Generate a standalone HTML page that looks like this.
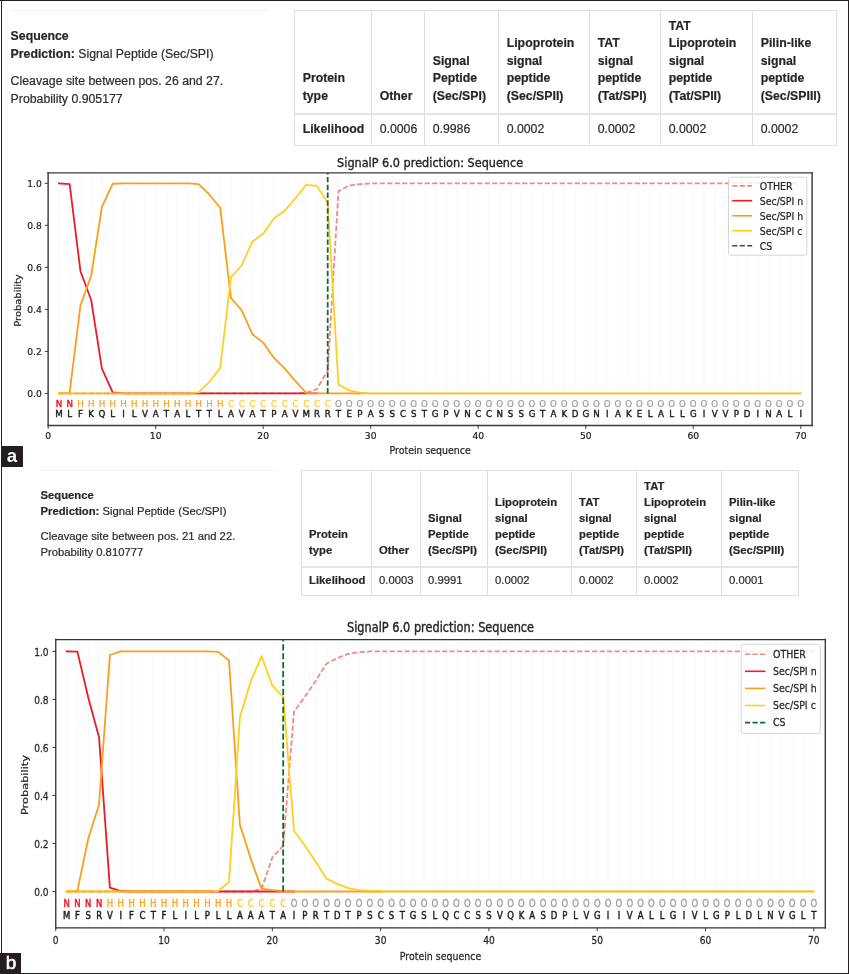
<!DOCTYPE html>
<html lang="en"><head><meta charset="utf-8"><title>SignalP 6.0 prediction</title>
<style>
html,body{margin:0;padding:0;background:#fff}
body{width:849px;height:974px;position:relative;overflow:hidden;font-family:"Liberation Sans",Arial,Helvetica,sans-serif;color:#333}
.t{position:absolute;white-space:nowrap;color:#2b2b2b;-webkit-text-stroke:0.2px #2b2b2b}
.t b,.b{font-weight:bold;color:#262626}
.hr{position:absolute;height:1px;background:#f2f2f2}
.lk{position:absolute;border-collapse:collapse;table-layout:fixed;color:#2b2b2b;-webkit-text-stroke:0.2px #2b2b2b}
.lk th,.lk td{border:1px solid #dedede;vertical-align:bottom;text-align:left;white-space:nowrap;font-weight:normal}
.lk th{font-weight:bold;color:#262626}
.lk thead th{border-bottom:2px solid #e4e4e4}
.bd{position:absolute;background:#231f20}
.tag{position:absolute;background:#231f20;color:#fff;font-weight:bold;text-align:center}
svg{position:absolute;left:0;top:0}
</style></head><body>
<div class="hr" style="left:10px;top:9.5px;width:257.5px"></div>
<div class="t" style="left:10.6px;top:28px;font-size:12.3px;line-height:17.6px"><b>Sequence</b></div>
<div class="t" style="left:10.6px;top:46px;font-size:12.3px;line-height:17.6px"><b>Prediction:</b> Signal Peptide (Sec/SPI)</div>
<div class="t" style="left:10.6px;top:73px;font-size:12.3px;line-height:17.6px">Cleavage site between pos. 26 and 27.</div>
<div class="t" style="left:10.6px;top:91px;font-size:12.3px;line-height:17.6px">Probability 0.905177</div>
<table class="lk" style="left:294px;top:10px;width:543px;font-size:12.3px;line-height:17.6px">
<colgroup><col style="width:77px"><col style="width:53px"><col style="width:74px"><col style="width:91px"><col style="width:71px"><col style="width:92px"><col style="width:84px"></colgroup>
<thead><tr style="height:103px"><th style="padding:0 0 7px 7.699999999999999px">Protein<br>type</th><th style="padding:0 0 7px 7.699999999999999px">Other</th><th style="padding:0 0 7px 7.699999999999999px">Signal<br>Peptide<br>(Sec/SPI)</th><th style="padding:0 0 7px 7.699999999999999px">Lipoprotein<br>signal<br>peptide<br>(Sec/SPII)</th><th style="padding:0 0 7px 7.699999999999999px">TAT<br>signal<br>peptide<br>(Tat/SPI)</th><th style="padding:0 0 7px 7.699999999999999px">TAT<br>Lipoprotein<br>signal<br>peptide<br>(Tat/SPII)</th><th style="padding:0 0 7px 7.699999999999999px">Pilin-like<br>signal<br>peptide<br>(Sec/SPIII)</th></tr></thead>
<tbody><tr style="height:32px"><th style="padding:0 0 6px 7.699999999999999px">Likelihood</th><td style="padding:0 0 6px 7.699999999999999px">0.0006</td><td style="padding:0 0 6px 7.699999999999999px">0.9986</td><td style="padding:0 0 6px 7.699999999999999px">0.0002</td><td style="padding:0 0 6px 7.699999999999999px">0.0002</td><td style="padding:0 0 6px 7.699999999999999px">0.0002</td><td style="padding:0 0 6px 7.699999999999999px">0.0002</td></tr></tbody>
</table>
<div class="hr" style="left:39.6px;top:470.4px;width:236.7px"></div>
<div class="t" style="left:40.5px;top:487px;font-size:11.28px;line-height:16.15px"><b>Sequence</b></div>
<div class="t" style="left:40.5px;top:503px;font-size:11.28px;line-height:16.15px"><b>Prediction:</b> Signal Peptide (Sec/SPI)</div>
<div class="t" style="left:40.5px;top:528px;font-size:11.28px;line-height:16.15px">Cleavage site between pos. 21 and 22.</div>
<div class="t" style="left:40.5px;top:544px;font-size:11.28px;line-height:16.15px">Probability 0.810777</div>
<table class="lk" style="left:301px;top:470px;width:498px;font-size:11.28px;line-height:16.15px">
<colgroup><col style="width:70px"><col style="width:49px"><col style="width:67px"><col style="width:84px"><col style="width:65px"><col style="width:85px"><col style="width:77px"></colgroup>
<thead><tr style="height:96px"><th style="padding:0 0 7px 7.1px">Protein<br>type</th><th style="padding:0 0 7px 7.1px">Other</th><th style="padding:0 0 7px 7.1px">Signal<br>Peptide<br>(Sec/SPI)</th><th style="padding:0 0 7px 7.1px">Lipoprotein<br>signal<br>peptide<br>(Sec/SPII)</th><th style="padding:0 0 7px 7.1px">TAT<br>signal<br>peptide<br>(Tat/SPI)</th><th style="padding:0 0 7px 7.1px">TAT<br>Lipoprotein<br>signal<br>peptide<br>(Tat/SPII)</th><th style="padding:0 0 7px 7.1px">Pilin-like<br>signal<br>peptide<br>(Sec/SPIII)</th></tr></thead>
<tbody><tr style="height:29px"><th style="padding:0 0 7px 7.1px">Likelihood</th><td style="padding:0 0 7px 7.1px">0.0003</td><td style="padding:0 0 7px 7.1px">0.9991</td><td style="padding:0 0 7px 7.1px">0.0002</td><td style="padding:0 0 7px 7.1px">0.0002</td><td style="padding:0 0 7px 7.1px">0.0002</td><td style="padding:0 0 7px 7.1px">0.0001</td></tr></tbody>
</table>
<svg width="849" height="974" viewBox="0 0 849 974">
<g font-family="'DejaVu Sans','Liberation Sans',sans-serif" font-size="9.4" fill="#262626" stroke="#262626" stroke-width="0.22">
<path d="M58.9 172.9V425.5M69.65 172.9V425.5M80.41 172.9V425.5M91.16 172.9V425.5M101.91 172.9V425.5M112.66 172.9V425.5M123.41 172.9V425.5M134.17 172.9V425.5M144.92 172.9V425.5M155.67 172.9V425.5M166.42 172.9V425.5M177.17 172.9V425.5M187.93 172.9V425.5M198.68 172.9V425.5M209.43 172.9V425.5M220.18 172.9V425.5M230.93 172.9V425.5M241.69 172.9V425.5M252.44 172.9V425.5M263.19 172.9V425.5M273.94 172.9V425.5M284.69 172.9V425.5M295.45 172.9V425.5M306.2 172.9V425.5M316.95 172.9V425.5M327.7 172.9V425.5M338.45 172.9V425.5M349.21 172.9V425.5M359.96 172.9V425.5M370.71 172.9V425.5M381.46 172.9V425.5M392.21 172.9V425.5M402.97 172.9V425.5M413.72 172.9V425.5M424.47 172.9V425.5M435.22 172.9V425.5M445.97 172.9V425.5M456.73 172.9V425.5M467.48 172.9V425.5M478.23 172.9V425.5M488.98 172.9V425.5M499.73 172.9V425.5M510.49 172.9V425.5M521.24 172.9V425.5M531.99 172.9V425.5M542.74 172.9V425.5M553.49 172.9V425.5M564.25 172.9V425.5M575 172.9V425.5M585.75 172.9V425.5M596.5 172.9V425.5M607.25 172.9V425.5M618.01 172.9V425.5M628.76 172.9V425.5M639.51 172.9V425.5M650.26 172.9V425.5M661.01 172.9V425.5M671.77 172.9V425.5M682.52 172.9V425.5M693.27 172.9V425.5M704.02 172.9V425.5M714.77 172.9V425.5M725.53 172.9V425.5M736.28 172.9V425.5M747.03 172.9V425.5M757.78 172.9V425.5M768.53 172.9V425.5M779.29 172.9V425.5M790.04 172.9V425.5M800.79 172.9V425.5" stroke="#f9f9f9" stroke-width="1.1" fill="none"/>
<text transform="translate(58.9 406.75) scale(1 1.043)" text-anchor="middle" font-size="8.7" fill="#ED1B24" stroke="#ED1B24" stroke-width="0.45">N</text>
<text transform="translate(69.65 406.75) scale(1 1.043)" text-anchor="middle" font-size="8.7" fill="#ED1B24" stroke="#ED1B24" stroke-width="0.45">N</text>
<text transform="translate(80.41 406.75) scale(1 1.043)" text-anchor="middle" font-size="8.7" fill="#F9A01B" stroke="#F9A01B">H</text>
<text transform="translate(91.16 406.75) scale(1 1.043)" text-anchor="middle" font-size="8.7" fill="#F9A01B" stroke="#F9A01B">H</text>
<text transform="translate(101.91 406.75) scale(1 1.043)" text-anchor="middle" font-size="8.7" fill="#F9A01B" stroke="#F9A01B">H</text>
<text transform="translate(112.66 406.75) scale(1 1.043)" text-anchor="middle" font-size="8.7" fill="#F9A01B" stroke="#F9A01B">H</text>
<text transform="translate(123.41 406.75) scale(1 1.043)" text-anchor="middle" font-size="8.7" fill="#F9A01B" stroke="#F9A01B">H</text>
<text transform="translate(134.17 406.75) scale(1 1.043)" text-anchor="middle" font-size="8.7" fill="#F9A01B" stroke="#F9A01B">H</text>
<text transform="translate(144.92 406.75) scale(1 1.043)" text-anchor="middle" font-size="8.7" fill="#F9A01B" stroke="#F9A01B">H</text>
<text transform="translate(155.67 406.75) scale(1 1.043)" text-anchor="middle" font-size="8.7" fill="#F9A01B" stroke="#F9A01B">H</text>
<text transform="translate(166.42 406.75) scale(1 1.043)" text-anchor="middle" font-size="8.7" fill="#F9A01B" stroke="#F9A01B">H</text>
<text transform="translate(177.17 406.75) scale(1 1.043)" text-anchor="middle" font-size="8.7" fill="#F9A01B" stroke="#F9A01B">H</text>
<text transform="translate(187.93 406.75) scale(1 1.043)" text-anchor="middle" font-size="8.7" fill="#F9A01B" stroke="#F9A01B">H</text>
<text transform="translate(198.68 406.75) scale(1 1.043)" text-anchor="middle" font-size="8.7" fill="#F9A01B" stroke="#F9A01B">H</text>
<text transform="translate(209.43 406.75) scale(1 1.043)" text-anchor="middle" font-size="8.7" fill="#F9A01B" stroke="#F9A01B">H</text>
<text transform="translate(220.18 406.75) scale(1 1.043)" text-anchor="middle" font-size="8.7" fill="#F9A01B" stroke="#F9A01B">H</text>
<text transform="translate(230.93 406.75) scale(1 1.043)" text-anchor="middle" font-size="8.7" fill="#FFCF1F" stroke="#FFCF1F">C</text>
<text transform="translate(241.69 406.75) scale(1 1.043)" text-anchor="middle" font-size="8.7" fill="#FFCF1F" stroke="#FFCF1F">C</text>
<text transform="translate(252.44 406.75) scale(1 1.043)" text-anchor="middle" font-size="8.7" fill="#FFCF1F" stroke="#FFCF1F">C</text>
<text transform="translate(263.19 406.75) scale(1 1.043)" text-anchor="middle" font-size="8.7" fill="#FFCF1F" stroke="#FFCF1F">C</text>
<text transform="translate(273.94 406.75) scale(1 1.043)" text-anchor="middle" font-size="8.7" fill="#FFCF1F" stroke="#FFCF1F">C</text>
<text transform="translate(284.69 406.75) scale(1 1.043)" text-anchor="middle" font-size="8.7" fill="#FFCF1F" stroke="#FFCF1F">C</text>
<text transform="translate(295.45 406.75) scale(1 1.043)" text-anchor="middle" font-size="8.7" fill="#FFCF1F" stroke="#FFCF1F">C</text>
<text transform="translate(306.2 406.75) scale(1 1.043)" text-anchor="middle" font-size="8.7" fill="#FFCF1F" stroke="#FFCF1F">C</text>
<text transform="translate(316.95 406.75) scale(1 1.043)" text-anchor="middle" font-size="8.7" fill="#FFCF1F" stroke="#FFCF1F">C</text>
<text transform="translate(327.7 406.75) scale(1 1.043)" text-anchor="middle" font-size="8.7" fill="#FFCF1F" stroke="#FFCF1F">C</text>
<text transform="translate(338.45 406.75) scale(1 1.043)" text-anchor="middle" font-size="8.7" fill="#9a9a9a" stroke="#9a9a9a">O</text>
<text transform="translate(349.21 406.75) scale(1 1.043)" text-anchor="middle" font-size="8.7" fill="#9a9a9a" stroke="#9a9a9a">O</text>
<text transform="translate(359.96 406.75) scale(1 1.043)" text-anchor="middle" font-size="8.7" fill="#9a9a9a" stroke="#9a9a9a">O</text>
<text transform="translate(370.71 406.75) scale(1 1.043)" text-anchor="middle" font-size="8.7" fill="#9a9a9a" stroke="#9a9a9a">O</text>
<text transform="translate(381.46 406.75) scale(1 1.043)" text-anchor="middle" font-size="8.7" fill="#9a9a9a" stroke="#9a9a9a">O</text>
<text transform="translate(392.21 406.75) scale(1 1.043)" text-anchor="middle" font-size="8.7" fill="#9a9a9a" stroke="#9a9a9a">O</text>
<text transform="translate(402.97 406.75) scale(1 1.043)" text-anchor="middle" font-size="8.7" fill="#9a9a9a" stroke="#9a9a9a">O</text>
<text transform="translate(413.72 406.75) scale(1 1.043)" text-anchor="middle" font-size="8.7" fill="#9a9a9a" stroke="#9a9a9a">O</text>
<text transform="translate(424.47 406.75) scale(1 1.043)" text-anchor="middle" font-size="8.7" fill="#9a9a9a" stroke="#9a9a9a">O</text>
<text transform="translate(435.22 406.75) scale(1 1.043)" text-anchor="middle" font-size="8.7" fill="#9a9a9a" stroke="#9a9a9a">O</text>
<text transform="translate(445.97 406.75) scale(1 1.043)" text-anchor="middle" font-size="8.7" fill="#9a9a9a" stroke="#9a9a9a">O</text>
<text transform="translate(456.73 406.75) scale(1 1.043)" text-anchor="middle" font-size="8.7" fill="#9a9a9a" stroke="#9a9a9a">O</text>
<text transform="translate(467.48 406.75) scale(1 1.043)" text-anchor="middle" font-size="8.7" fill="#9a9a9a" stroke="#9a9a9a">O</text>
<text transform="translate(478.23 406.75) scale(1 1.043)" text-anchor="middle" font-size="8.7" fill="#9a9a9a" stroke="#9a9a9a">O</text>
<text transform="translate(488.98 406.75) scale(1 1.043)" text-anchor="middle" font-size="8.7" fill="#9a9a9a" stroke="#9a9a9a">O</text>
<text transform="translate(499.73 406.75) scale(1 1.043)" text-anchor="middle" font-size="8.7" fill="#9a9a9a" stroke="#9a9a9a">O</text>
<text transform="translate(510.49 406.75) scale(1 1.043)" text-anchor="middle" font-size="8.7" fill="#9a9a9a" stroke="#9a9a9a">O</text>
<text transform="translate(521.24 406.75) scale(1 1.043)" text-anchor="middle" font-size="8.7" fill="#9a9a9a" stroke="#9a9a9a">O</text>
<text transform="translate(531.99 406.75) scale(1 1.043)" text-anchor="middle" font-size="8.7" fill="#9a9a9a" stroke="#9a9a9a">O</text>
<text transform="translate(542.74 406.75) scale(1 1.043)" text-anchor="middle" font-size="8.7" fill="#9a9a9a" stroke="#9a9a9a">O</text>
<text transform="translate(553.49 406.75) scale(1 1.043)" text-anchor="middle" font-size="8.7" fill="#9a9a9a" stroke="#9a9a9a">O</text>
<text transform="translate(564.25 406.75) scale(1 1.043)" text-anchor="middle" font-size="8.7" fill="#9a9a9a" stroke="#9a9a9a">O</text>
<text transform="translate(575 406.75) scale(1 1.043)" text-anchor="middle" font-size="8.7" fill="#9a9a9a" stroke="#9a9a9a">O</text>
<text transform="translate(585.75 406.75) scale(1 1.043)" text-anchor="middle" font-size="8.7" fill="#9a9a9a" stroke="#9a9a9a">O</text>
<text transform="translate(596.5 406.75) scale(1 1.043)" text-anchor="middle" font-size="8.7" fill="#9a9a9a" stroke="#9a9a9a">O</text>
<text transform="translate(607.25 406.75) scale(1 1.043)" text-anchor="middle" font-size="8.7" fill="#9a9a9a" stroke="#9a9a9a">O</text>
<text transform="translate(618.01 406.75) scale(1 1.043)" text-anchor="middle" font-size="8.7" fill="#9a9a9a" stroke="#9a9a9a">O</text>
<text transform="translate(628.76 406.75) scale(1 1.043)" text-anchor="middle" font-size="8.7" fill="#9a9a9a" stroke="#9a9a9a">O</text>
<text transform="translate(639.51 406.75) scale(1 1.043)" text-anchor="middle" font-size="8.7" fill="#9a9a9a" stroke="#9a9a9a">O</text>
<text transform="translate(650.26 406.75) scale(1 1.043)" text-anchor="middle" font-size="8.7" fill="#9a9a9a" stroke="#9a9a9a">O</text>
<text transform="translate(661.01 406.75) scale(1 1.043)" text-anchor="middle" font-size="8.7" fill="#9a9a9a" stroke="#9a9a9a">O</text>
<text transform="translate(671.77 406.75) scale(1 1.043)" text-anchor="middle" font-size="8.7" fill="#9a9a9a" stroke="#9a9a9a">O</text>
<text transform="translate(682.52 406.75) scale(1 1.043)" text-anchor="middle" font-size="8.7" fill="#9a9a9a" stroke="#9a9a9a">O</text>
<text transform="translate(693.27 406.75) scale(1 1.043)" text-anchor="middle" font-size="8.7" fill="#9a9a9a" stroke="#9a9a9a">O</text>
<text transform="translate(704.02 406.75) scale(1 1.043)" text-anchor="middle" font-size="8.7" fill="#9a9a9a" stroke="#9a9a9a">O</text>
<text transform="translate(714.77 406.75) scale(1 1.043)" text-anchor="middle" font-size="8.7" fill="#9a9a9a" stroke="#9a9a9a">O</text>
<text transform="translate(725.53 406.75) scale(1 1.043)" text-anchor="middle" font-size="8.7" fill="#9a9a9a" stroke="#9a9a9a">O</text>
<text transform="translate(736.28 406.75) scale(1 1.043)" text-anchor="middle" font-size="8.7" fill="#9a9a9a" stroke="#9a9a9a">O</text>
<text transform="translate(747.03 406.75) scale(1 1.043)" text-anchor="middle" font-size="8.7" fill="#9a9a9a" stroke="#9a9a9a">O</text>
<text transform="translate(757.78 406.75) scale(1 1.043)" text-anchor="middle" font-size="8.7" fill="#9a9a9a" stroke="#9a9a9a">O</text>
<text transform="translate(768.53 406.75) scale(1 1.043)" text-anchor="middle" font-size="8.7" fill="#9a9a9a" stroke="#9a9a9a">O</text>
<text transform="translate(779.29 406.75) scale(1 1.043)" text-anchor="middle" font-size="8.7" fill="#9a9a9a" stroke="#9a9a9a">O</text>
<text transform="translate(790.04 406.75) scale(1 1.043)" text-anchor="middle" font-size="8.7" fill="#9a9a9a" stroke="#9a9a9a">O</text>
<text transform="translate(800.79 406.75) scale(1 1.043)" text-anchor="middle" font-size="8.7" fill="#9a9a9a" stroke="#9a9a9a">O</text>
<text transform="translate(58.9 417.26) scale(1 1.043)" text-anchor="middle" font-size="8.7" fill="#1c1c1c" stroke="#1c1c1c" stroke-width="0.38">M</text>
<text transform="translate(69.65 417.26) scale(1 1.043)" text-anchor="middle" font-size="8.7" fill="#1c1c1c" stroke="#1c1c1c" stroke-width="0.38">L</text>
<text transform="translate(80.41 417.26) scale(1 1.043)" text-anchor="middle" font-size="8.7" fill="#1c1c1c" stroke="#1c1c1c" stroke-width="0.38">F</text>
<text transform="translate(91.16 417.26) scale(1 1.043)" text-anchor="middle" font-size="8.7" fill="#1c1c1c" stroke="#1c1c1c" stroke-width="0.38">K</text>
<text transform="translate(101.91 417.26) scale(1 1.043)" text-anchor="middle" font-size="8.7" fill="#1c1c1c" stroke="#1c1c1c" stroke-width="0.38">Q</text>
<text transform="translate(112.66 417.26) scale(1 1.043)" text-anchor="middle" font-size="8.7" fill="#1c1c1c" stroke="#1c1c1c" stroke-width="0.38">L</text>
<text transform="translate(123.41 417.26) scale(1 1.043)" text-anchor="middle" font-size="8.7" fill="#1c1c1c" stroke="#1c1c1c" stroke-width="0.38">I</text>
<text transform="translate(134.17 417.26) scale(1 1.043)" text-anchor="middle" font-size="8.7" fill="#1c1c1c" stroke="#1c1c1c" stroke-width="0.38">L</text>
<text transform="translate(144.92 417.26) scale(1 1.043)" text-anchor="middle" font-size="8.7" fill="#1c1c1c" stroke="#1c1c1c" stroke-width="0.38">V</text>
<text transform="translate(155.67 417.26) scale(1 1.043)" text-anchor="middle" font-size="8.7" fill="#1c1c1c" stroke="#1c1c1c" stroke-width="0.38">A</text>
<text transform="translate(166.42 417.26) scale(1 1.043)" text-anchor="middle" font-size="8.7" fill="#1c1c1c" stroke="#1c1c1c" stroke-width="0.38">T</text>
<text transform="translate(177.17 417.26) scale(1 1.043)" text-anchor="middle" font-size="8.7" fill="#1c1c1c" stroke="#1c1c1c" stroke-width="0.38">A</text>
<text transform="translate(187.93 417.26) scale(1 1.043)" text-anchor="middle" font-size="8.7" fill="#1c1c1c" stroke="#1c1c1c" stroke-width="0.38">L</text>
<text transform="translate(198.68 417.26) scale(1 1.043)" text-anchor="middle" font-size="8.7" fill="#1c1c1c" stroke="#1c1c1c" stroke-width="0.38">T</text>
<text transform="translate(209.43 417.26) scale(1 1.043)" text-anchor="middle" font-size="8.7" fill="#1c1c1c" stroke="#1c1c1c" stroke-width="0.38">T</text>
<text transform="translate(220.18 417.26) scale(1 1.043)" text-anchor="middle" font-size="8.7" fill="#1c1c1c" stroke="#1c1c1c" stroke-width="0.38">L</text>
<text transform="translate(230.93 417.26) scale(1 1.043)" text-anchor="middle" font-size="8.7" fill="#1c1c1c" stroke="#1c1c1c" stroke-width="0.38">A</text>
<text transform="translate(241.69 417.26) scale(1 1.043)" text-anchor="middle" font-size="8.7" fill="#1c1c1c" stroke="#1c1c1c" stroke-width="0.38">V</text>
<text transform="translate(252.44 417.26) scale(1 1.043)" text-anchor="middle" font-size="8.7" fill="#1c1c1c" stroke="#1c1c1c" stroke-width="0.38">A</text>
<text transform="translate(263.19 417.26) scale(1 1.043)" text-anchor="middle" font-size="8.7" fill="#1c1c1c" stroke="#1c1c1c" stroke-width="0.38">T</text>
<text transform="translate(273.94 417.26) scale(1 1.043)" text-anchor="middle" font-size="8.7" fill="#1c1c1c" stroke="#1c1c1c" stroke-width="0.38">P</text>
<text transform="translate(284.69 417.26) scale(1 1.043)" text-anchor="middle" font-size="8.7" fill="#1c1c1c" stroke="#1c1c1c" stroke-width="0.38">A</text>
<text transform="translate(295.45 417.26) scale(1 1.043)" text-anchor="middle" font-size="8.7" fill="#1c1c1c" stroke="#1c1c1c" stroke-width="0.38">V</text>
<text transform="translate(306.2 417.26) scale(1 1.043)" text-anchor="middle" font-size="8.7" fill="#1c1c1c" stroke="#1c1c1c" stroke-width="0.38">M</text>
<text transform="translate(316.95 417.26) scale(1 1.043)" text-anchor="middle" font-size="8.7" fill="#1c1c1c" stroke="#1c1c1c" stroke-width="0.38">R</text>
<text transform="translate(327.7 417.26) scale(1 1.043)" text-anchor="middle" font-size="8.7" fill="#1c1c1c" stroke="#1c1c1c" stroke-width="0.38">R</text>
<text transform="translate(338.45 417.26) scale(1 1.043)" text-anchor="middle" font-size="8.7" fill="#1c1c1c" stroke="#1c1c1c" stroke-width="0.38">T</text>
<text transform="translate(349.21 417.26) scale(1 1.043)" text-anchor="middle" font-size="8.7" fill="#1c1c1c" stroke="#1c1c1c" stroke-width="0.38">E</text>
<text transform="translate(359.96 417.26) scale(1 1.043)" text-anchor="middle" font-size="8.7" fill="#1c1c1c" stroke="#1c1c1c" stroke-width="0.38">P</text>
<text transform="translate(370.71 417.26) scale(1 1.043)" text-anchor="middle" font-size="8.7" fill="#1c1c1c" stroke="#1c1c1c" stroke-width="0.38">A</text>
<text transform="translate(381.46 417.26) scale(1 1.043)" text-anchor="middle" font-size="8.7" fill="#1c1c1c" stroke="#1c1c1c" stroke-width="0.38">S</text>
<text transform="translate(392.21 417.26) scale(1 1.043)" text-anchor="middle" font-size="8.7" fill="#1c1c1c" stroke="#1c1c1c" stroke-width="0.38">S</text>
<text transform="translate(402.97 417.26) scale(1 1.043)" text-anchor="middle" font-size="8.7" fill="#1c1c1c" stroke="#1c1c1c" stroke-width="0.38">C</text>
<text transform="translate(413.72 417.26) scale(1 1.043)" text-anchor="middle" font-size="8.7" fill="#1c1c1c" stroke="#1c1c1c" stroke-width="0.38">S</text>
<text transform="translate(424.47 417.26) scale(1 1.043)" text-anchor="middle" font-size="8.7" fill="#1c1c1c" stroke="#1c1c1c" stroke-width="0.38">T</text>
<text transform="translate(435.22 417.26) scale(1 1.043)" text-anchor="middle" font-size="8.7" fill="#1c1c1c" stroke="#1c1c1c" stroke-width="0.38">G</text>
<text transform="translate(445.97 417.26) scale(1 1.043)" text-anchor="middle" font-size="8.7" fill="#1c1c1c" stroke="#1c1c1c" stroke-width="0.38">P</text>
<text transform="translate(456.73 417.26) scale(1 1.043)" text-anchor="middle" font-size="8.7" fill="#1c1c1c" stroke="#1c1c1c" stroke-width="0.38">V</text>
<text transform="translate(467.48 417.26) scale(1 1.043)" text-anchor="middle" font-size="8.7" fill="#1c1c1c" stroke="#1c1c1c" stroke-width="0.38">N</text>
<text transform="translate(478.23 417.26) scale(1 1.043)" text-anchor="middle" font-size="8.7" fill="#1c1c1c" stroke="#1c1c1c" stroke-width="0.38">C</text>
<text transform="translate(488.98 417.26) scale(1 1.043)" text-anchor="middle" font-size="8.7" fill="#1c1c1c" stroke="#1c1c1c" stroke-width="0.38">C</text>
<text transform="translate(499.73 417.26) scale(1 1.043)" text-anchor="middle" font-size="8.7" fill="#1c1c1c" stroke="#1c1c1c" stroke-width="0.38">N</text>
<text transform="translate(510.49 417.26) scale(1 1.043)" text-anchor="middle" font-size="8.7" fill="#1c1c1c" stroke="#1c1c1c" stroke-width="0.38">S</text>
<text transform="translate(521.24 417.26) scale(1 1.043)" text-anchor="middle" font-size="8.7" fill="#1c1c1c" stroke="#1c1c1c" stroke-width="0.38">S</text>
<text transform="translate(531.99 417.26) scale(1 1.043)" text-anchor="middle" font-size="8.7" fill="#1c1c1c" stroke="#1c1c1c" stroke-width="0.38">G</text>
<text transform="translate(542.74 417.26) scale(1 1.043)" text-anchor="middle" font-size="8.7" fill="#1c1c1c" stroke="#1c1c1c" stroke-width="0.38">T</text>
<text transform="translate(553.49 417.26) scale(1 1.043)" text-anchor="middle" font-size="8.7" fill="#1c1c1c" stroke="#1c1c1c" stroke-width="0.38">A</text>
<text transform="translate(564.25 417.26) scale(1 1.043)" text-anchor="middle" font-size="8.7" fill="#1c1c1c" stroke="#1c1c1c" stroke-width="0.38">K</text>
<text transform="translate(575 417.26) scale(1 1.043)" text-anchor="middle" font-size="8.7" fill="#1c1c1c" stroke="#1c1c1c" stroke-width="0.38">D</text>
<text transform="translate(585.75 417.26) scale(1 1.043)" text-anchor="middle" font-size="8.7" fill="#1c1c1c" stroke="#1c1c1c" stroke-width="0.38">G</text>
<text transform="translate(596.5 417.26) scale(1 1.043)" text-anchor="middle" font-size="8.7" fill="#1c1c1c" stroke="#1c1c1c" stroke-width="0.38">N</text>
<text transform="translate(607.25 417.26) scale(1 1.043)" text-anchor="middle" font-size="8.7" fill="#1c1c1c" stroke="#1c1c1c" stroke-width="0.38">I</text>
<text transform="translate(618.01 417.26) scale(1 1.043)" text-anchor="middle" font-size="8.7" fill="#1c1c1c" stroke="#1c1c1c" stroke-width="0.38">A</text>
<text transform="translate(628.76 417.26) scale(1 1.043)" text-anchor="middle" font-size="8.7" fill="#1c1c1c" stroke="#1c1c1c" stroke-width="0.38">K</text>
<text transform="translate(639.51 417.26) scale(1 1.043)" text-anchor="middle" font-size="8.7" fill="#1c1c1c" stroke="#1c1c1c" stroke-width="0.38">E</text>
<text transform="translate(650.26 417.26) scale(1 1.043)" text-anchor="middle" font-size="8.7" fill="#1c1c1c" stroke="#1c1c1c" stroke-width="0.38">L</text>
<text transform="translate(661.01 417.26) scale(1 1.043)" text-anchor="middle" font-size="8.7" fill="#1c1c1c" stroke="#1c1c1c" stroke-width="0.38">A</text>
<text transform="translate(671.77 417.26) scale(1 1.043)" text-anchor="middle" font-size="8.7" fill="#1c1c1c" stroke="#1c1c1c" stroke-width="0.38">L</text>
<text transform="translate(682.52 417.26) scale(1 1.043)" text-anchor="middle" font-size="8.7" fill="#1c1c1c" stroke="#1c1c1c" stroke-width="0.38">L</text>
<text transform="translate(693.27 417.26) scale(1 1.043)" text-anchor="middle" font-size="8.7" fill="#1c1c1c" stroke="#1c1c1c" stroke-width="0.38">G</text>
<text transform="translate(704.02 417.26) scale(1 1.043)" text-anchor="middle" font-size="8.7" fill="#1c1c1c" stroke="#1c1c1c" stroke-width="0.38">I</text>
<text transform="translate(714.77 417.26) scale(1 1.043)" text-anchor="middle" font-size="8.7" fill="#1c1c1c" stroke="#1c1c1c" stroke-width="0.38">V</text>
<text transform="translate(725.53 417.26) scale(1 1.043)" text-anchor="middle" font-size="8.7" fill="#1c1c1c" stroke="#1c1c1c" stroke-width="0.38">V</text>
<text transform="translate(736.28 417.26) scale(1 1.043)" text-anchor="middle" font-size="8.7" fill="#1c1c1c" stroke="#1c1c1c" stroke-width="0.38">P</text>
<text transform="translate(747.03 417.26) scale(1 1.043)" text-anchor="middle" font-size="8.7" fill="#1c1c1c" stroke="#1c1c1c" stroke-width="0.38">D</text>
<text transform="translate(757.78 417.26) scale(1 1.043)" text-anchor="middle" font-size="8.7" fill="#1c1c1c" stroke="#1c1c1c" stroke-width="0.38">I</text>
<text transform="translate(768.53 417.26) scale(1 1.043)" text-anchor="middle" font-size="8.7" fill="#1c1c1c" stroke="#1c1c1c" stroke-width="0.38">N</text>
<text transform="translate(779.29 417.26) scale(1 1.043)" text-anchor="middle" font-size="8.7" fill="#1c1c1c" stroke="#1c1c1c" stroke-width="0.38">A</text>
<text transform="translate(790.04 417.26) scale(1 1.043)" text-anchor="middle" font-size="8.7" fill="#1c1c1c" stroke="#1c1c1c" stroke-width="0.38">L</text>
<text transform="translate(800.79 417.26) scale(1 1.043)" text-anchor="middle" font-size="8.7" fill="#1c1c1c" stroke="#1c1c1c" stroke-width="0.38">I</text>
<polyline points="58.9,393.45 69.65,393.45 80.41,393.45 91.16,393.45 101.91,393.45 112.66,393.45 123.41,393.45 134.17,393.45 144.92,393.45 155.67,393.45 166.42,393.45 177.17,393.45 187.93,393.45 198.68,393.45 209.43,393.45 220.18,393.45 230.93,393.45 241.69,393.45 252.44,393.45 263.19,393.45 273.94,393.45 284.69,393.45 295.45,393.45 306.2,392.82 316.95,389.04 327.7,370.76 338.45,191.33 349.21,185.45 359.96,184.19 370.71,183.35 381.46,183.35 392.21,183.35 402.97,183.35 413.72,183.35 424.47,183.35 435.22,183.35 445.97,183.35 456.73,183.35 467.48,183.35 478.23,183.35 488.98,183.35 499.73,183.35 510.49,183.35 521.24,183.35 531.99,183.35 542.74,183.35 553.49,183.35 564.25,183.35 575,183.35 585.75,183.35 596.5,183.35 607.25,183.35 618.01,183.35 628.76,183.35 639.51,183.35 650.26,183.35 661.01,183.35 671.77,183.35 682.52,183.35 693.27,183.35 704.02,183.35 714.77,183.35 725.53,183.35 736.28,183.35 747.03,183.35 757.78,183.35 768.53,183.35 779.29,183.35 790.04,183.35 800.79,183.35" fill="none" stroke="#F08A84" stroke-width="1.8" stroke-linejoin="round" stroke-linecap="butt" stroke-dasharray="5.2 2.3"/>
<polyline points="58.9,183.35 69.65,184.19 80.41,270.96 91.16,299.96 101.91,368.66 112.66,392.4 123.41,393.45 134.17,393.45 144.92,393.45 155.67,393.45 166.42,393.45 177.17,393.45 187.93,393.45 198.68,393.45 209.43,393.45 220.18,393.45 230.93,393.45 241.69,393.45 252.44,393.45 263.19,393.45 273.94,393.45 284.69,393.45 295.45,393.45 306.2,393.45 316.95,393.45" fill="none" stroke="#ED1B24" stroke-width="1.8" stroke-linejoin="round" stroke-linecap="square"/>
<polyline points="58.9,393.45 69.65,392.82 80.41,305.63 91.16,275.79 101.91,206.88 112.66,183.77 123.41,183.35 134.17,183.35 144.92,183.35 155.67,183.35 166.42,183.35 177.17,183.35 187.93,183.35 198.68,184.19 209.43,194.7 220.18,207.72 230.93,297.85 241.69,310.25 252.44,334.31 263.19,342.61 273.94,357.94 284.69,368.45 295.45,381.05 306.2,392.82 316.95,393.45 327.7,393.45 338.45,393.45 349.21,393.45 359.96,393.45" fill="none" stroke="#F9A01B" stroke-width="1.8" stroke-linejoin="round" stroke-linecap="square"/>
<polyline points="58.9,393.45 69.65,393.45 80.41,393.45 91.16,393.45 101.91,393.45 112.66,393.45 123.41,393.45 134.17,393.45 144.92,393.45 155.67,393.45 166.42,393.45 177.17,393.45 187.93,393.45 198.68,392.4 209.43,381.89 220.18,368.03 230.93,277.26 241.69,265.5 252.44,241.44 263.19,233.77 273.94,218.44 284.69,210.66 295.45,198.27 306.2,184.82 316.95,185.87 327.7,203.1 338.45,384.42 349.21,390.38 359.96,392.61 370.71,393.45 381.46,393.45 392.21,393.45 402.97,393.45 413.72,393.45 424.47,393.45 435.22,393.45 445.97,393.45 456.73,393.45 467.48,393.45 478.23,393.45 488.98,393.45 499.73,393.45 510.49,393.45 521.24,393.45 531.99,393.45 542.74,393.45 553.49,393.45 564.25,393.45 575,393.45 585.75,393.45 596.5,393.45 607.25,393.45 618.01,393.45 628.76,393.45 639.51,393.45 650.26,393.45 661.01,393.45 671.77,393.45 682.52,393.45 693.27,393.45 704.02,393.45 714.77,393.45 725.53,393.45 736.28,393.45 747.03,393.45 757.78,393.45 768.53,393.45 779.29,393.45 790.04,393.45 800.79,393.45" fill="none" stroke="#FFCF1F" stroke-width="1.8" stroke-linejoin="round" stroke-linecap="square"/>
<path d="M58.9 393.45H193.3" stroke="#F9A01B" stroke-opacity="0.5" stroke-width="1.65" fill="none"/>
<path d="M354.58 393.45H800.79" stroke="#F9A01B" stroke-opacity="0.5" stroke-width="1.65" fill="none"/>
<path d="M327.7 393.45V172.9" stroke="#14692E" stroke-width="1.8" stroke-dasharray="5.42 2.4" fill="none"/>
<path d="M48.15 172.9V425.5M812.1 172.9V425.5" stroke="#5a5a5a" stroke-width="1.7" fill="none" stroke-linecap="square"/>
<path d="M48.15 172.9H812.1M48.15 425.5H812.1" stroke="#3a3a3a" stroke-width="1.3" fill="none" stroke-linecap="square"/>
<path d="M48.15 425.5v3.4M155.67 425.5v3.4M263.19 425.5v3.4M370.71 425.5v3.4M478.23 425.5v3.4M585.75 425.5v3.4M693.27 425.5v3.4M800.79 425.5v3.4M48.15 393.45h-3.4M48.15 351.43h-3.4M48.15 309.41h-3.4M48.15 267.39h-3.4M48.15 225.37h-3.4M48.15 183.35h-3.4" stroke="#2b2b2b" stroke-width="0.9" fill="none"/>
<text transform="translate(48.15 439.2) scale(1 1.043)" text-anchor="middle" font-size="9.2">0</text>
<text transform="translate(155.67 439.2) scale(1 1.043)" text-anchor="middle" font-size="9.2">10</text>
<text transform="translate(263.19 439.2) scale(1 1.043)" text-anchor="middle" font-size="9.2">20</text>
<text transform="translate(370.71 439.2) scale(1 1.043)" text-anchor="middle" font-size="9.2">30</text>
<text transform="translate(478.23 439.2) scale(1 1.043)" text-anchor="middle" font-size="9.2">40</text>
<text transform="translate(585.75 439.2) scale(1 1.043)" text-anchor="middle" font-size="9.2">50</text>
<text transform="translate(693.27 439.2) scale(1 1.043)" text-anchor="middle" font-size="9.2">60</text>
<text transform="translate(800.79 439.2) scale(1 1.043)" text-anchor="middle" font-size="9.2">70</text>
<text transform="translate(41.8 397.45) scale(1 1.043)" text-anchor="end" font-size="9.2">0.0</text>
<text transform="translate(41.8 355.43) scale(1 1.043)" text-anchor="end" font-size="9.2">0.2</text>
<text transform="translate(41.8 313.41) scale(1 1.043)" text-anchor="end" font-size="9.2">0.4</text>
<text transform="translate(41.8 271.39) scale(1 1.043)" text-anchor="end" font-size="9.2">0.6</text>
<text transform="translate(41.8 229.37) scale(1 1.043)" text-anchor="end" font-size="9.2">0.8</text>
<text transform="translate(41.8 187.35) scale(1 1.043)" text-anchor="end" font-size="9.2">1.0</text>
<text transform="translate(430.12 453.5) scale(1 1.043)" text-anchor="middle">Protein sequence</text>
<text transform="translate(430.12 166.8) scale(1 1.043)" text-anchor="middle" font-size="11.28" stroke-width="0.34">SignalP 6.0 prediction: Sequence</text>
<text transform="translate(21 300.55) rotate(-90) scale(1.055516 1)" text-anchor="middle">Probability</text>
<rect x="728.5" y="177.2" width="78.3" height="78" rx="2.2" fill="#fff" fill-opacity="0.8" stroke="#d0d0d0" stroke-width="0.9"/>
<path d="M732.2 185.9H752.2" stroke="#F08A84" stroke-width="1.6" stroke-dasharray="5.2 2.3" fill="none"/>
<text transform="translate(759.8 189.72) scale(1 1.043)" text-anchor="start">OTHER</text>
<path d="M732.2 200.7H752.2" stroke="#ED1B24" stroke-width="1.6" fill="none"/>
<text transform="translate(759.8 204.52) scale(1 1.043)" text-anchor="start">Sec/SPI n</text>
<path d="M732.2 215.8H752.2" stroke="#F9A01B" stroke-width="1.6" fill="none"/>
<text transform="translate(759.8 219.62) scale(1 1.043)" text-anchor="start">Sec/SPI h</text>
<path d="M732.2 230.7H752.2" stroke="#FFCF1F" stroke-width="1.6" fill="none"/>
<text transform="translate(759.8 234.52) scale(1 1.043)" text-anchor="start">Sec/SPI c</text>
<path d="M732.2 245.7H752.2" stroke="#14692E" stroke-width="1.6" stroke-dasharray="5.2 2.3" fill="none"/>
<text transform="translate(759.8 249.52) scale(1 1.043)" text-anchor="start">CS</text>
</g>
<g font-family="'DejaVu Sans','Liberation Sans',sans-serif" font-size="9.45" fill="#262626" stroke="#262626" stroke-width="0.22">
<path d="M66.58 639.5V927.85M77.41 639.5V927.85M88.24 639.5V927.85M99.07 639.5V927.85M109.9 639.5V927.85M120.73 639.5V927.85M131.56 639.5V927.85M142.39 639.5V927.85M153.22 639.5V927.85M164.05 639.5V927.85M174.88 639.5V927.85M185.71 639.5V927.85M196.54 639.5V927.85M207.37 639.5V927.85M218.2 639.5V927.85M229.03 639.5V927.85M239.86 639.5V927.85M250.69 639.5V927.85M261.52 639.5V927.85M272.35 639.5V927.85M283.18 639.5V927.85M294.01 639.5V927.85M304.84 639.5V927.85M315.67 639.5V927.85M326.5 639.5V927.85M337.33 639.5V927.85M348.16 639.5V927.85M358.99 639.5V927.85M369.82 639.5V927.85M380.65 639.5V927.85M391.48 639.5V927.85M402.31 639.5V927.85M413.14 639.5V927.85M423.97 639.5V927.85M434.8 639.5V927.85M445.63 639.5V927.85M456.46 639.5V927.85M467.29 639.5V927.85M478.12 639.5V927.85M488.95 639.5V927.85M499.78 639.5V927.85M510.61 639.5V927.85M521.44 639.5V927.85M532.27 639.5V927.85M543.1 639.5V927.85M553.93 639.5V927.85M564.76 639.5V927.85M575.59 639.5V927.85M586.42 639.5V927.85M597.25 639.5V927.85M608.08 639.5V927.85M618.91 639.5V927.85M629.74 639.5V927.85M640.57 639.5V927.85M651.4 639.5V927.85M662.23 639.5V927.85M673.06 639.5V927.85M683.89 639.5V927.85M694.72 639.5V927.85M705.55 639.5V927.85M716.38 639.5V927.85M727.21 639.5V927.85M738.04 639.5V927.85M748.87 639.5V927.85M759.7 639.5V927.85M770.53 639.5V927.85M781.36 639.5V927.85M792.19 639.5V927.85M803.02 639.5V927.85M813.85 639.5V927.85" stroke="#f9f9f9" stroke-width="1.1" fill="none"/>
<text transform="translate(66.58 906.94) scale(1 1.19)" text-anchor="middle" font-size="8.5" fill="#ED1B24" stroke="#ED1B24" stroke-width="0.45">N</text>
<text transform="translate(77.41 906.94) scale(1 1.19)" text-anchor="middle" font-size="8.5" fill="#ED1B24" stroke="#ED1B24" stroke-width="0.45">N</text>
<text transform="translate(88.24 906.94) scale(1 1.19)" text-anchor="middle" font-size="8.5" fill="#ED1B24" stroke="#ED1B24" stroke-width="0.45">N</text>
<text transform="translate(99.07 906.94) scale(1 1.19)" text-anchor="middle" font-size="8.5" fill="#ED1B24" stroke="#ED1B24" stroke-width="0.45">N</text>
<text transform="translate(109.9 906.94) scale(1 1.19)" text-anchor="middle" font-size="8.5" fill="#F9A01B" stroke="#F9A01B">H</text>
<text transform="translate(120.73 906.94) scale(1 1.19)" text-anchor="middle" font-size="8.5" fill="#F9A01B" stroke="#F9A01B">H</text>
<text transform="translate(131.56 906.94) scale(1 1.19)" text-anchor="middle" font-size="8.5" fill="#F9A01B" stroke="#F9A01B">H</text>
<text transform="translate(142.39 906.94) scale(1 1.19)" text-anchor="middle" font-size="8.5" fill="#F9A01B" stroke="#F9A01B">H</text>
<text transform="translate(153.22 906.94) scale(1 1.19)" text-anchor="middle" font-size="8.5" fill="#F9A01B" stroke="#F9A01B">H</text>
<text transform="translate(164.05 906.94) scale(1 1.19)" text-anchor="middle" font-size="8.5" fill="#F9A01B" stroke="#F9A01B">H</text>
<text transform="translate(174.88 906.94) scale(1 1.19)" text-anchor="middle" font-size="8.5" fill="#F9A01B" stroke="#F9A01B">H</text>
<text transform="translate(185.71 906.94) scale(1 1.19)" text-anchor="middle" font-size="8.5" fill="#F9A01B" stroke="#F9A01B">H</text>
<text transform="translate(196.54 906.94) scale(1 1.19)" text-anchor="middle" font-size="8.5" fill="#F9A01B" stroke="#F9A01B">H</text>
<text transform="translate(207.37 906.94) scale(1 1.19)" text-anchor="middle" font-size="8.5" fill="#F9A01B" stroke="#F9A01B">H</text>
<text transform="translate(218.2 906.94) scale(1 1.19)" text-anchor="middle" font-size="8.5" fill="#F9A01B" stroke="#F9A01B">H</text>
<text transform="translate(229.03 906.94) scale(1 1.19)" text-anchor="middle" font-size="8.5" fill="#F9A01B" stroke="#F9A01B">H</text>
<text transform="translate(239.86 906.94) scale(1 1.19)" text-anchor="middle" font-size="8.5" fill="#FFCF1F" stroke="#FFCF1F">C</text>
<text transform="translate(250.69 906.94) scale(1 1.19)" text-anchor="middle" font-size="8.5" fill="#FFCF1F" stroke="#FFCF1F">C</text>
<text transform="translate(261.52 906.94) scale(1 1.19)" text-anchor="middle" font-size="8.5" fill="#FFCF1F" stroke="#FFCF1F">C</text>
<text transform="translate(272.35 906.94) scale(1 1.19)" text-anchor="middle" font-size="8.5" fill="#FFCF1F" stroke="#FFCF1F">C</text>
<text transform="translate(283.18 906.94) scale(1 1.19)" text-anchor="middle" font-size="8.5" fill="#FFCF1F" stroke="#FFCF1F">C</text>
<text transform="translate(294.01 906.94) scale(1 1.19)" text-anchor="middle" font-size="8.5" fill="#9a9a9a" stroke="#9a9a9a">O</text>
<text transform="translate(304.84 906.94) scale(1 1.19)" text-anchor="middle" font-size="8.5" fill="#9a9a9a" stroke="#9a9a9a">O</text>
<text transform="translate(315.67 906.94) scale(1 1.19)" text-anchor="middle" font-size="8.5" fill="#9a9a9a" stroke="#9a9a9a">O</text>
<text transform="translate(326.5 906.94) scale(1 1.19)" text-anchor="middle" font-size="8.5" fill="#9a9a9a" stroke="#9a9a9a">O</text>
<text transform="translate(337.33 906.94) scale(1 1.19)" text-anchor="middle" font-size="8.5" fill="#9a9a9a" stroke="#9a9a9a">O</text>
<text transform="translate(348.16 906.94) scale(1 1.19)" text-anchor="middle" font-size="8.5" fill="#9a9a9a" stroke="#9a9a9a">O</text>
<text transform="translate(358.99 906.94) scale(1 1.19)" text-anchor="middle" font-size="8.5" fill="#9a9a9a" stroke="#9a9a9a">O</text>
<text transform="translate(369.82 906.94) scale(1 1.19)" text-anchor="middle" font-size="8.5" fill="#9a9a9a" stroke="#9a9a9a">O</text>
<text transform="translate(380.65 906.94) scale(1 1.19)" text-anchor="middle" font-size="8.5" fill="#9a9a9a" stroke="#9a9a9a">O</text>
<text transform="translate(391.48 906.94) scale(1 1.19)" text-anchor="middle" font-size="8.5" fill="#9a9a9a" stroke="#9a9a9a">O</text>
<text transform="translate(402.31 906.94) scale(1 1.19)" text-anchor="middle" font-size="8.5" fill="#9a9a9a" stroke="#9a9a9a">O</text>
<text transform="translate(413.14 906.94) scale(1 1.19)" text-anchor="middle" font-size="8.5" fill="#9a9a9a" stroke="#9a9a9a">O</text>
<text transform="translate(423.97 906.94) scale(1 1.19)" text-anchor="middle" font-size="8.5" fill="#9a9a9a" stroke="#9a9a9a">O</text>
<text transform="translate(434.8 906.94) scale(1 1.19)" text-anchor="middle" font-size="8.5" fill="#9a9a9a" stroke="#9a9a9a">O</text>
<text transform="translate(445.63 906.94) scale(1 1.19)" text-anchor="middle" font-size="8.5" fill="#9a9a9a" stroke="#9a9a9a">O</text>
<text transform="translate(456.46 906.94) scale(1 1.19)" text-anchor="middle" font-size="8.5" fill="#9a9a9a" stroke="#9a9a9a">O</text>
<text transform="translate(467.29 906.94) scale(1 1.19)" text-anchor="middle" font-size="8.5" fill="#9a9a9a" stroke="#9a9a9a">O</text>
<text transform="translate(478.12 906.94) scale(1 1.19)" text-anchor="middle" font-size="8.5" fill="#9a9a9a" stroke="#9a9a9a">O</text>
<text transform="translate(488.95 906.94) scale(1 1.19)" text-anchor="middle" font-size="8.5" fill="#9a9a9a" stroke="#9a9a9a">O</text>
<text transform="translate(499.78 906.94) scale(1 1.19)" text-anchor="middle" font-size="8.5" fill="#9a9a9a" stroke="#9a9a9a">O</text>
<text transform="translate(510.61 906.94) scale(1 1.19)" text-anchor="middle" font-size="8.5" fill="#9a9a9a" stroke="#9a9a9a">O</text>
<text transform="translate(521.44 906.94) scale(1 1.19)" text-anchor="middle" font-size="8.5" fill="#9a9a9a" stroke="#9a9a9a">O</text>
<text transform="translate(532.27 906.94) scale(1 1.19)" text-anchor="middle" font-size="8.5" fill="#9a9a9a" stroke="#9a9a9a">O</text>
<text transform="translate(543.1 906.94) scale(1 1.19)" text-anchor="middle" font-size="8.5" fill="#9a9a9a" stroke="#9a9a9a">O</text>
<text transform="translate(553.93 906.94) scale(1 1.19)" text-anchor="middle" font-size="8.5" fill="#9a9a9a" stroke="#9a9a9a">O</text>
<text transform="translate(564.76 906.94) scale(1 1.19)" text-anchor="middle" font-size="8.5" fill="#9a9a9a" stroke="#9a9a9a">O</text>
<text transform="translate(575.59 906.94) scale(1 1.19)" text-anchor="middle" font-size="8.5" fill="#9a9a9a" stroke="#9a9a9a">O</text>
<text transform="translate(586.42 906.94) scale(1 1.19)" text-anchor="middle" font-size="8.5" fill="#9a9a9a" stroke="#9a9a9a">O</text>
<text transform="translate(597.25 906.94) scale(1 1.19)" text-anchor="middle" font-size="8.5" fill="#9a9a9a" stroke="#9a9a9a">O</text>
<text transform="translate(608.08 906.94) scale(1 1.19)" text-anchor="middle" font-size="8.5" fill="#9a9a9a" stroke="#9a9a9a">O</text>
<text transform="translate(618.91 906.94) scale(1 1.19)" text-anchor="middle" font-size="8.5" fill="#9a9a9a" stroke="#9a9a9a">O</text>
<text transform="translate(629.74 906.94) scale(1 1.19)" text-anchor="middle" font-size="8.5" fill="#9a9a9a" stroke="#9a9a9a">O</text>
<text transform="translate(640.57 906.94) scale(1 1.19)" text-anchor="middle" font-size="8.5" fill="#9a9a9a" stroke="#9a9a9a">O</text>
<text transform="translate(651.4 906.94) scale(1 1.19)" text-anchor="middle" font-size="8.5" fill="#9a9a9a" stroke="#9a9a9a">O</text>
<text transform="translate(662.23 906.94) scale(1 1.19)" text-anchor="middle" font-size="8.5" fill="#9a9a9a" stroke="#9a9a9a">O</text>
<text transform="translate(673.06 906.94) scale(1 1.19)" text-anchor="middle" font-size="8.5" fill="#9a9a9a" stroke="#9a9a9a">O</text>
<text transform="translate(683.89 906.94) scale(1 1.19)" text-anchor="middle" font-size="8.5" fill="#9a9a9a" stroke="#9a9a9a">O</text>
<text transform="translate(694.72 906.94) scale(1 1.19)" text-anchor="middle" font-size="8.5" fill="#9a9a9a" stroke="#9a9a9a">O</text>
<text transform="translate(705.55 906.94) scale(1 1.19)" text-anchor="middle" font-size="8.5" fill="#9a9a9a" stroke="#9a9a9a">O</text>
<text transform="translate(716.38 906.94) scale(1 1.19)" text-anchor="middle" font-size="8.5" fill="#9a9a9a" stroke="#9a9a9a">O</text>
<text transform="translate(727.21 906.94) scale(1 1.19)" text-anchor="middle" font-size="8.5" fill="#9a9a9a" stroke="#9a9a9a">O</text>
<text transform="translate(738.04 906.94) scale(1 1.19)" text-anchor="middle" font-size="8.5" fill="#9a9a9a" stroke="#9a9a9a">O</text>
<text transform="translate(748.87 906.94) scale(1 1.19)" text-anchor="middle" font-size="8.5" fill="#9a9a9a" stroke="#9a9a9a">O</text>
<text transform="translate(759.7 906.94) scale(1 1.19)" text-anchor="middle" font-size="8.5" fill="#9a9a9a" stroke="#9a9a9a">O</text>
<text transform="translate(770.53 906.94) scale(1 1.19)" text-anchor="middle" font-size="8.5" fill="#9a9a9a" stroke="#9a9a9a">O</text>
<text transform="translate(781.36 906.94) scale(1 1.19)" text-anchor="middle" font-size="8.5" fill="#9a9a9a" stroke="#9a9a9a">O</text>
<text transform="translate(792.19 906.94) scale(1 1.19)" text-anchor="middle" font-size="8.5" fill="#9a9a9a" stroke="#9a9a9a">O</text>
<text transform="translate(803.02 906.94) scale(1 1.19)" text-anchor="middle" font-size="8.5" fill="#9a9a9a" stroke="#9a9a9a">O</text>
<text transform="translate(813.85 906.94) scale(1 1.19)" text-anchor="middle" font-size="8.5" fill="#9a9a9a" stroke="#9a9a9a">O</text>
<text transform="translate(66.58 918.94) scale(1 1.19)" text-anchor="middle" font-size="8.5" fill="#1c1c1c" stroke="#1c1c1c" stroke-width="0.38">M</text>
<text transform="translate(77.41 918.94) scale(1 1.19)" text-anchor="middle" font-size="8.5" fill="#1c1c1c" stroke="#1c1c1c" stroke-width="0.38">F</text>
<text transform="translate(88.24 918.94) scale(1 1.19)" text-anchor="middle" font-size="8.5" fill="#1c1c1c" stroke="#1c1c1c" stroke-width="0.38">S</text>
<text transform="translate(99.07 918.94) scale(1 1.19)" text-anchor="middle" font-size="8.5" fill="#1c1c1c" stroke="#1c1c1c" stroke-width="0.38">R</text>
<text transform="translate(109.9 918.94) scale(1 1.19)" text-anchor="middle" font-size="8.5" fill="#1c1c1c" stroke="#1c1c1c" stroke-width="0.38">V</text>
<text transform="translate(120.73 918.94) scale(1 1.19)" text-anchor="middle" font-size="8.5" fill="#1c1c1c" stroke="#1c1c1c" stroke-width="0.38">I</text>
<text transform="translate(131.56 918.94) scale(1 1.19)" text-anchor="middle" font-size="8.5" fill="#1c1c1c" stroke="#1c1c1c" stroke-width="0.38">F</text>
<text transform="translate(142.39 918.94) scale(1 1.19)" text-anchor="middle" font-size="8.5" fill="#1c1c1c" stroke="#1c1c1c" stroke-width="0.38">C</text>
<text transform="translate(153.22 918.94) scale(1 1.19)" text-anchor="middle" font-size="8.5" fill="#1c1c1c" stroke="#1c1c1c" stroke-width="0.38">T</text>
<text transform="translate(164.05 918.94) scale(1 1.19)" text-anchor="middle" font-size="8.5" fill="#1c1c1c" stroke="#1c1c1c" stroke-width="0.38">F</text>
<text transform="translate(174.88 918.94) scale(1 1.19)" text-anchor="middle" font-size="8.5" fill="#1c1c1c" stroke="#1c1c1c" stroke-width="0.38">L</text>
<text transform="translate(185.71 918.94) scale(1 1.19)" text-anchor="middle" font-size="8.5" fill="#1c1c1c" stroke="#1c1c1c" stroke-width="0.38">I</text>
<text transform="translate(196.54 918.94) scale(1 1.19)" text-anchor="middle" font-size="8.5" fill="#1c1c1c" stroke="#1c1c1c" stroke-width="0.38">L</text>
<text transform="translate(207.37 918.94) scale(1 1.19)" text-anchor="middle" font-size="8.5" fill="#1c1c1c" stroke="#1c1c1c" stroke-width="0.38">P</text>
<text transform="translate(218.2 918.94) scale(1 1.19)" text-anchor="middle" font-size="8.5" fill="#1c1c1c" stroke="#1c1c1c" stroke-width="0.38">L</text>
<text transform="translate(229.03 918.94) scale(1 1.19)" text-anchor="middle" font-size="8.5" fill="#1c1c1c" stroke="#1c1c1c" stroke-width="0.38">L</text>
<text transform="translate(239.86 918.94) scale(1 1.19)" text-anchor="middle" font-size="8.5" fill="#1c1c1c" stroke="#1c1c1c" stroke-width="0.38">A</text>
<text transform="translate(250.69 918.94) scale(1 1.19)" text-anchor="middle" font-size="8.5" fill="#1c1c1c" stroke="#1c1c1c" stroke-width="0.38">A</text>
<text transform="translate(261.52 918.94) scale(1 1.19)" text-anchor="middle" font-size="8.5" fill="#1c1c1c" stroke="#1c1c1c" stroke-width="0.38">A</text>
<text transform="translate(272.35 918.94) scale(1 1.19)" text-anchor="middle" font-size="8.5" fill="#1c1c1c" stroke="#1c1c1c" stroke-width="0.38">T</text>
<text transform="translate(283.18 918.94) scale(1 1.19)" text-anchor="middle" font-size="8.5" fill="#1c1c1c" stroke="#1c1c1c" stroke-width="0.38">A</text>
<text transform="translate(294.01 918.94) scale(1 1.19)" text-anchor="middle" font-size="8.5" fill="#1c1c1c" stroke="#1c1c1c" stroke-width="0.38">I</text>
<text transform="translate(304.84 918.94) scale(1 1.19)" text-anchor="middle" font-size="8.5" fill="#1c1c1c" stroke="#1c1c1c" stroke-width="0.38">P</text>
<text transform="translate(315.67 918.94) scale(1 1.19)" text-anchor="middle" font-size="8.5" fill="#1c1c1c" stroke="#1c1c1c" stroke-width="0.38">R</text>
<text transform="translate(326.5 918.94) scale(1 1.19)" text-anchor="middle" font-size="8.5" fill="#1c1c1c" stroke="#1c1c1c" stroke-width="0.38">T</text>
<text transform="translate(337.33 918.94) scale(1 1.19)" text-anchor="middle" font-size="8.5" fill="#1c1c1c" stroke="#1c1c1c" stroke-width="0.38">D</text>
<text transform="translate(348.16 918.94) scale(1 1.19)" text-anchor="middle" font-size="8.5" fill="#1c1c1c" stroke="#1c1c1c" stroke-width="0.38">T</text>
<text transform="translate(358.99 918.94) scale(1 1.19)" text-anchor="middle" font-size="8.5" fill="#1c1c1c" stroke="#1c1c1c" stroke-width="0.38">P</text>
<text transform="translate(369.82 918.94) scale(1 1.19)" text-anchor="middle" font-size="8.5" fill="#1c1c1c" stroke="#1c1c1c" stroke-width="0.38">S</text>
<text transform="translate(380.65 918.94) scale(1 1.19)" text-anchor="middle" font-size="8.5" fill="#1c1c1c" stroke="#1c1c1c" stroke-width="0.38">C</text>
<text transform="translate(391.48 918.94) scale(1 1.19)" text-anchor="middle" font-size="8.5" fill="#1c1c1c" stroke="#1c1c1c" stroke-width="0.38">S</text>
<text transform="translate(402.31 918.94) scale(1 1.19)" text-anchor="middle" font-size="8.5" fill="#1c1c1c" stroke="#1c1c1c" stroke-width="0.38">T</text>
<text transform="translate(413.14 918.94) scale(1 1.19)" text-anchor="middle" font-size="8.5" fill="#1c1c1c" stroke="#1c1c1c" stroke-width="0.38">G</text>
<text transform="translate(423.97 918.94) scale(1 1.19)" text-anchor="middle" font-size="8.5" fill="#1c1c1c" stroke="#1c1c1c" stroke-width="0.38">S</text>
<text transform="translate(434.8 918.94) scale(1 1.19)" text-anchor="middle" font-size="8.5" fill="#1c1c1c" stroke="#1c1c1c" stroke-width="0.38">L</text>
<text transform="translate(445.63 918.94) scale(1 1.19)" text-anchor="middle" font-size="8.5" fill="#1c1c1c" stroke="#1c1c1c" stroke-width="0.38">Q</text>
<text transform="translate(456.46 918.94) scale(1 1.19)" text-anchor="middle" font-size="8.5" fill="#1c1c1c" stroke="#1c1c1c" stroke-width="0.38">C</text>
<text transform="translate(467.29 918.94) scale(1 1.19)" text-anchor="middle" font-size="8.5" fill="#1c1c1c" stroke="#1c1c1c" stroke-width="0.38">C</text>
<text transform="translate(478.12 918.94) scale(1 1.19)" text-anchor="middle" font-size="8.5" fill="#1c1c1c" stroke="#1c1c1c" stroke-width="0.38">S</text>
<text transform="translate(488.95 918.94) scale(1 1.19)" text-anchor="middle" font-size="8.5" fill="#1c1c1c" stroke="#1c1c1c" stroke-width="0.38">S</text>
<text transform="translate(499.78 918.94) scale(1 1.19)" text-anchor="middle" font-size="8.5" fill="#1c1c1c" stroke="#1c1c1c" stroke-width="0.38">V</text>
<text transform="translate(510.61 918.94) scale(1 1.19)" text-anchor="middle" font-size="8.5" fill="#1c1c1c" stroke="#1c1c1c" stroke-width="0.38">Q</text>
<text transform="translate(521.44 918.94) scale(1 1.19)" text-anchor="middle" font-size="8.5" fill="#1c1c1c" stroke="#1c1c1c" stroke-width="0.38">K</text>
<text transform="translate(532.27 918.94) scale(1 1.19)" text-anchor="middle" font-size="8.5" fill="#1c1c1c" stroke="#1c1c1c" stroke-width="0.38">A</text>
<text transform="translate(543.1 918.94) scale(1 1.19)" text-anchor="middle" font-size="8.5" fill="#1c1c1c" stroke="#1c1c1c" stroke-width="0.38">S</text>
<text transform="translate(553.93 918.94) scale(1 1.19)" text-anchor="middle" font-size="8.5" fill="#1c1c1c" stroke="#1c1c1c" stroke-width="0.38">D</text>
<text transform="translate(564.76 918.94) scale(1 1.19)" text-anchor="middle" font-size="8.5" fill="#1c1c1c" stroke="#1c1c1c" stroke-width="0.38">P</text>
<text transform="translate(575.59 918.94) scale(1 1.19)" text-anchor="middle" font-size="8.5" fill="#1c1c1c" stroke="#1c1c1c" stroke-width="0.38">L</text>
<text transform="translate(586.42 918.94) scale(1 1.19)" text-anchor="middle" font-size="8.5" fill="#1c1c1c" stroke="#1c1c1c" stroke-width="0.38">V</text>
<text transform="translate(597.25 918.94) scale(1 1.19)" text-anchor="middle" font-size="8.5" fill="#1c1c1c" stroke="#1c1c1c" stroke-width="0.38">G</text>
<text transform="translate(608.08 918.94) scale(1 1.19)" text-anchor="middle" font-size="8.5" fill="#1c1c1c" stroke="#1c1c1c" stroke-width="0.38">I</text>
<text transform="translate(618.91 918.94) scale(1 1.19)" text-anchor="middle" font-size="8.5" fill="#1c1c1c" stroke="#1c1c1c" stroke-width="0.38">I</text>
<text transform="translate(629.74 918.94) scale(1 1.19)" text-anchor="middle" font-size="8.5" fill="#1c1c1c" stroke="#1c1c1c" stroke-width="0.38">V</text>
<text transform="translate(640.57 918.94) scale(1 1.19)" text-anchor="middle" font-size="8.5" fill="#1c1c1c" stroke="#1c1c1c" stroke-width="0.38">A</text>
<text transform="translate(651.4 918.94) scale(1 1.19)" text-anchor="middle" font-size="8.5" fill="#1c1c1c" stroke="#1c1c1c" stroke-width="0.38">L</text>
<text transform="translate(662.23 918.94) scale(1 1.19)" text-anchor="middle" font-size="8.5" fill="#1c1c1c" stroke="#1c1c1c" stroke-width="0.38">L</text>
<text transform="translate(673.06 918.94) scale(1 1.19)" text-anchor="middle" font-size="8.5" fill="#1c1c1c" stroke="#1c1c1c" stroke-width="0.38">G</text>
<text transform="translate(683.89 918.94) scale(1 1.19)" text-anchor="middle" font-size="8.5" fill="#1c1c1c" stroke="#1c1c1c" stroke-width="0.38">I</text>
<text transform="translate(694.72 918.94) scale(1 1.19)" text-anchor="middle" font-size="8.5" fill="#1c1c1c" stroke="#1c1c1c" stroke-width="0.38">V</text>
<text transform="translate(705.55 918.94) scale(1 1.19)" text-anchor="middle" font-size="8.5" fill="#1c1c1c" stroke="#1c1c1c" stroke-width="0.38">L</text>
<text transform="translate(716.38 918.94) scale(1 1.19)" text-anchor="middle" font-size="8.5" fill="#1c1c1c" stroke="#1c1c1c" stroke-width="0.38">G</text>
<text transform="translate(727.21 918.94) scale(1 1.19)" text-anchor="middle" font-size="8.5" fill="#1c1c1c" stroke="#1c1c1c" stroke-width="0.38">P</text>
<text transform="translate(738.04 918.94) scale(1 1.19)" text-anchor="middle" font-size="8.5" fill="#1c1c1c" stroke="#1c1c1c" stroke-width="0.38">L</text>
<text transform="translate(748.87 918.94) scale(1 1.19)" text-anchor="middle" font-size="8.5" fill="#1c1c1c" stroke="#1c1c1c" stroke-width="0.38">D</text>
<text transform="translate(759.7 918.94) scale(1 1.19)" text-anchor="middle" font-size="8.5" fill="#1c1c1c" stroke="#1c1c1c" stroke-width="0.38">L</text>
<text transform="translate(770.53 918.94) scale(1 1.19)" text-anchor="middle" font-size="8.5" fill="#1c1c1c" stroke="#1c1c1c" stroke-width="0.38">N</text>
<text transform="translate(781.36 918.94) scale(1 1.19)" text-anchor="middle" font-size="8.5" fill="#1c1c1c" stroke="#1c1c1c" stroke-width="0.38">V</text>
<text transform="translate(792.19 918.94) scale(1 1.19)" text-anchor="middle" font-size="8.5" fill="#1c1c1c" stroke="#1c1c1c" stroke-width="0.38">G</text>
<text transform="translate(803.02 918.94) scale(1 1.19)" text-anchor="middle" font-size="8.5" fill="#1c1c1c" stroke="#1c1c1c" stroke-width="0.38">L</text>
<text transform="translate(813.85 918.94) scale(1 1.19)" text-anchor="middle" font-size="8.5" fill="#1c1c1c" stroke="#1c1c1c" stroke-width="0.38">T</text>
<polyline points="66.58,891.5 77.41,891.5 88.24,891.5 99.07,891.5 109.9,891.5 120.73,891.5 131.56,891.5 142.39,891.5 153.22,891.5 164.05,891.5 174.88,891.5 185.71,891.5 196.54,891.5 207.37,891.5 218.2,891.5 229.03,891.5 239.86,891.5 250.69,891.5 261.52,889.1 272.35,857.41 283.18,845.88 294.01,711.67 304.84,696.78 315.67,680.93 326.5,663.74 337.33,658.12 348.16,653.8 358.99,652.19 369.82,651.4 380.65,651.4 391.48,651.4 402.31,651.4 413.14,651.4 423.97,651.4 434.8,651.4 445.63,651.4 456.46,651.4 467.29,651.4 478.12,651.4 488.95,651.4 499.78,651.4 510.61,651.4 521.44,651.4 532.27,651.4 543.1,651.4 553.93,651.4 564.76,651.4 575.59,651.4 586.42,651.4 597.25,651.4 608.08,651.4 618.91,651.4 629.74,651.4 640.57,651.4 651.4,651.4 662.23,651.4 673.06,651.4 683.89,651.4 694.72,651.4 705.55,651.4 716.38,651.4 727.21,651.4 738.04,651.4 748.87,651.4 759.7,651.4 770.53,651.4 781.36,651.4 792.19,651.4 803.02,651.4 813.85,651.4" fill="none" stroke="#F08A84" stroke-width="1.8" stroke-linejoin="round" stroke-linecap="butt" stroke-dasharray="5.2 2.3"/>
<polyline points="66.58,651.4 77.41,651.64 88.24,697.5 99.07,737.6 109.9,887.66 120.73,891.02 131.56,891.5 142.39,891.5 153.22,891.5 164.05,891.5 174.88,891.5 185.71,891.5 196.54,891.5 207.37,891.5 218.2,891.5 229.03,891.5 239.86,891.5 250.69,891.5 261.52,891.5 272.35,891.5 283.18,891.5 294.01,891.5" fill="none" stroke="#ED1B24" stroke-width="1.8" stroke-linejoin="round" stroke-linecap="square"/>
<polyline points="66.58,891.5 77.41,891.02 88.24,838.68 99.07,804.44 109.9,655 120.73,651.4 131.56,651.4 142.39,651.4 153.22,651.4 164.05,651.4 174.88,651.4 185.71,651.4 196.54,651.4 207.37,651.4 218.2,651.88 229.03,660.52 239.86,824.51 250.69,858.61 261.52,888.62 272.35,890.06 283.18,891.02 294.01,891.5 304.84,891.5 315.67,891.5 326.5,891.5 337.33,891.5 348.16,891.5 358.99,891.5 369.82,891.5 380.65,891.5" fill="none" stroke="#F9A01B" stroke-width="1.8" stroke-linejoin="round" stroke-linecap="square"/>
<polyline points="66.58,891.5 77.41,891.5 88.24,891.5 99.07,891.5 109.9,891.5 120.73,891.5 131.56,891.5 142.39,891.5 153.22,891.5 164.05,891.5 174.88,891.5 185.71,891.5 196.54,891.5 207.37,891.5 218.2,891.02 229.03,882.14 239.86,717.43 250.69,681.41 261.52,656.2 272.35,685.73 283.18,696.78 294.01,830.83 304.84,845.64 315.67,861.73 326.5,878.65 337.33,883.82 348.16,888.14 358.99,890.06 369.82,891.02 380.65,891.5 391.48,891.5 402.31,891.5 413.14,891.5 423.97,891.5 434.8,891.5 445.63,891.5 456.46,891.5 467.29,891.5 478.12,891.5 488.95,891.5 499.78,891.5 510.61,891.5 521.44,891.5 532.27,891.5 543.1,891.5 553.93,891.5 564.76,891.5 575.59,891.5 586.42,891.5 597.25,891.5 608.08,891.5 618.91,891.5 629.74,891.5 640.57,891.5 651.4,891.5 662.23,891.5 673.06,891.5 683.89,891.5 694.72,891.5 705.55,891.5 716.38,891.5 727.21,891.5 738.04,891.5 748.87,891.5 759.7,891.5 770.53,891.5 781.36,891.5 792.19,891.5 803.02,891.5 813.85,891.5" fill="none" stroke="#FFCF1F" stroke-width="1.8" stroke-linejoin="round" stroke-linecap="square"/>
<path d="M66.58 891.5H212.78" stroke="#F9A01B" stroke-opacity="0.5" stroke-width="1.65" fill="none"/>
<path d="M364.41 891.5H813.85" stroke="#F9A01B" stroke-opacity="0.5" stroke-width="1.65" fill="none"/>
<path d="M283.18 891.5V639.5" stroke="#14692E" stroke-width="1.8" stroke-dasharray="6.19 2.74" fill="none"/>
<path d="M55.75 639.5V927.85M825.3 639.5V927.85" stroke="#3c3c3c" stroke-width="1.4" fill="none" stroke-linecap="square"/>
<path d="M55.75 639.5H825.3M55.75 927.85H825.3" stroke="#333333" stroke-width="1.25" fill="none" stroke-linecap="square"/>
<path d="M55.75 927.85v3.4M164.05 927.85v3.4M272.35 927.85v3.4M380.65 927.85v3.4M488.95 927.85v3.4M597.25 927.85v3.4M705.55 927.85v3.4M813.85 927.85v3.4M55.75 891.5h-3.4M55.75 843.48h-3.4M55.75 795.46h-3.4M55.75 747.44h-3.4M55.75 699.42h-3.4M55.75 651.4h-3.4" stroke="#2b2b2b" stroke-width="0.9" fill="none"/>
<text transform="translate(55.75 944) scale(1 1.19)" text-anchor="middle" font-size="9.1">0</text>
<text transform="translate(164.05 944) scale(1 1.19)" text-anchor="middle" font-size="9.1">10</text>
<text transform="translate(272.35 944) scale(1 1.19)" text-anchor="middle" font-size="9.1">20</text>
<text transform="translate(380.65 944) scale(1 1.19)" text-anchor="middle" font-size="9.1">30</text>
<text transform="translate(488.95 944) scale(1 1.19)" text-anchor="middle" font-size="9.1">40</text>
<text transform="translate(597.25 944) scale(1 1.19)" text-anchor="middle" font-size="9.1">50</text>
<text transform="translate(705.55 944) scale(1 1.19)" text-anchor="middle" font-size="9.1">60</text>
<text transform="translate(813.85 944) scale(1 1.19)" text-anchor="middle" font-size="9.1">70</text>
<text transform="translate(48.6 895.95) scale(1 1.19)" text-anchor="end" font-size="9.1">0.0</text>
<text transform="translate(48.6 847.93) scale(1 1.19)" text-anchor="end" font-size="9.1">0.2</text>
<text transform="translate(48.6 799.91) scale(1 1.19)" text-anchor="end" font-size="9.1">0.4</text>
<text transform="translate(48.6 751.89) scale(1 1.19)" text-anchor="end" font-size="9.1">0.6</text>
<text transform="translate(48.6 703.87) scale(1 1.19)" text-anchor="end" font-size="9.1">0.8</text>
<text transform="translate(48.6 655.85) scale(1 1.19)" text-anchor="end" font-size="9.1">1.0</text>
<text transform="translate(440.52 960) scale(1 1.19)" text-anchor="middle">Protein sequence</text>
<text transform="translate(440.52 632.1) scale(1 1.19)" text-anchor="middle" font-size="11.34" stroke-width="0.34">SignalP 6.0 prediction: Sequence</text>
<text transform="translate(28 785.02) rotate(-90) scale(1.20428 1)" text-anchor="middle">Probability</text>
<rect x="741.2" y="644.3" width="79.1" height="89.1" rx="2.2" fill="#fff" fill-opacity="0.8" stroke="#d0d0d0" stroke-width="0.9"/>
<path d="M745 654.2H765.4" stroke="#F08A84" stroke-width="1.6" stroke-dasharray="5.2 2.3" fill="none"/>
<text transform="translate(773 657.7) scale(1 1.19)" text-anchor="start">OTHER</text>
<path d="M745 671.3H765.4" stroke="#ED1B24" stroke-width="1.6" fill="none"/>
<text transform="translate(773 674.8) scale(1 1.19)" text-anchor="start">Sec/SPI n</text>
<path d="M745 688.4H765.4" stroke="#F9A01B" stroke-width="1.6" fill="none"/>
<text transform="translate(773 691.9) scale(1 1.19)" text-anchor="start">Sec/SPI h</text>
<path d="M745 705.5H765.4" stroke="#FFCF1F" stroke-width="1.6" fill="none"/>
<text transform="translate(773 709) scale(1 1.19)" text-anchor="start">Sec/SPI c</text>
<path d="M745 722.6H765.4" stroke="#14692E" stroke-width="1.6" stroke-dasharray="5.2 2.3" fill="none"/>
<text transform="translate(773 726.1) scale(1 1.19)" text-anchor="start">CS</text>
</g>
</svg>
<div class="tag" style="left:1px;top:446px;width:22px;height:21px;font-size:18.6px;line-height:19.6px">a</div>
<div class="tag" style="left:0px;top:953px;width:21px;height:21px;font-size:19px;line-height:19px;font-weight:normal;-webkit-text-stroke:0.55px #fff;text-indent:1px">b</div>
<div class="bd" style="left:0;top:0;width:849px;height:1px"></div>
<div class="bd" style="left:1px;top:0;width:1px;height:974px"></div>
<div class="bd" style="left:848px;top:0;width:1px;height:974px"></div>
<div class="bd" style="left:0;top:973px;width:849px;height:1px"></div>
</body></html>
